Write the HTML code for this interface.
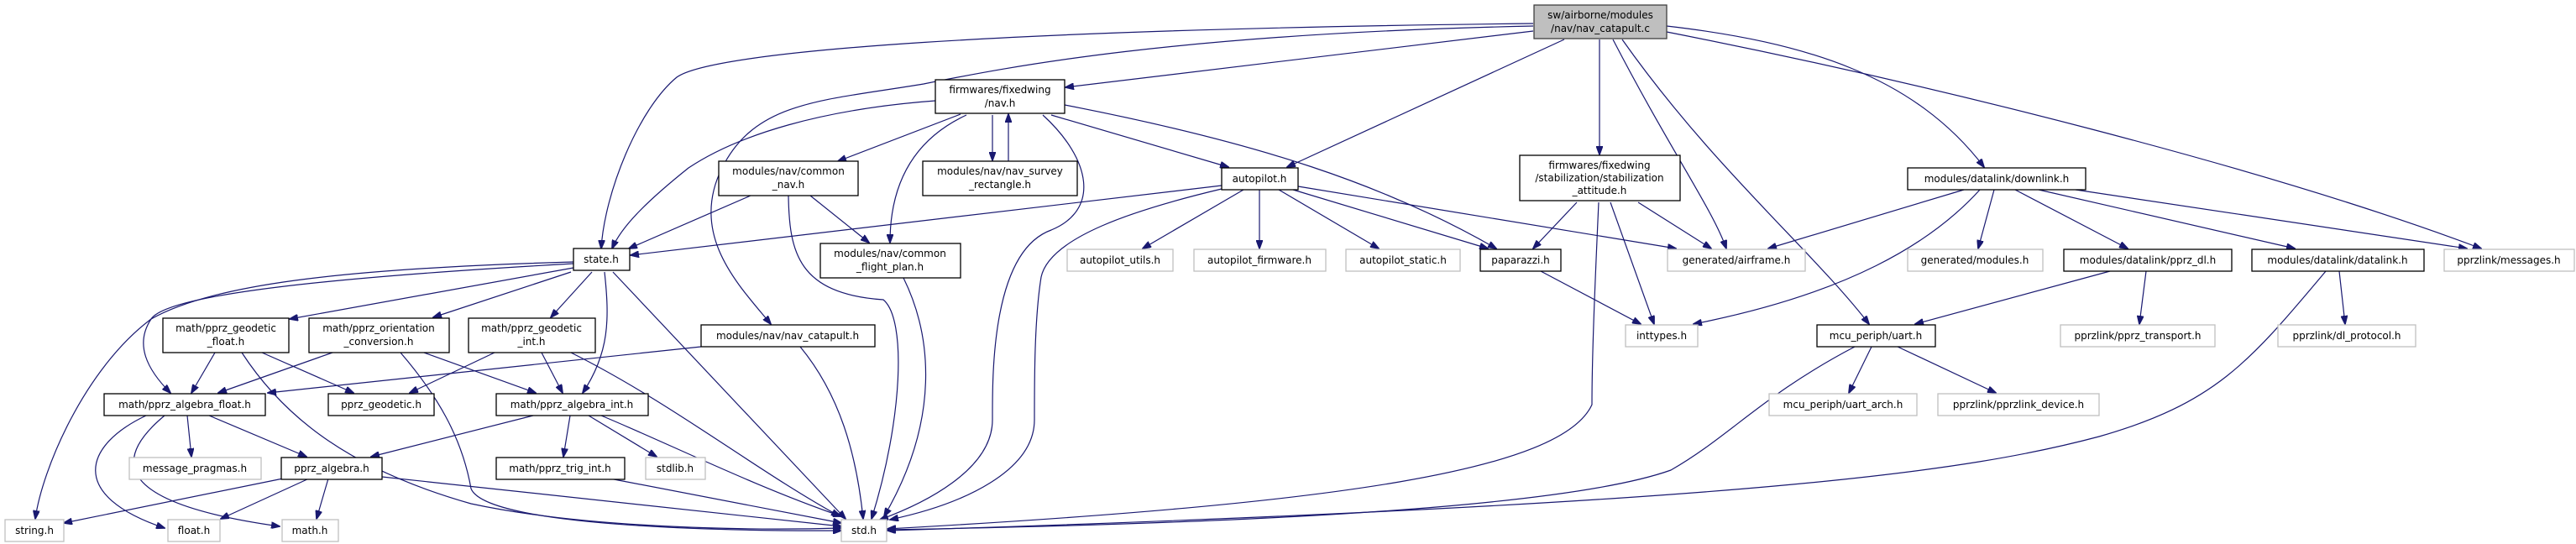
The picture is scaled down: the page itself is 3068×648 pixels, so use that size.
<!DOCTYPE html>
<html><head><meta charset="utf-8"><style>
html,body{margin:0;padding:0;background:#fff;}
svg{display:block;}
text{font-family:"DejaVu Sans","Liberation Sans",sans-serif;font-size:12px;fill:#000;text-anchor:middle;}
.e{fill:none;stroke:#191970;stroke-width:1.2;}
.b{fill:#fff;stroke:#000;stroke-width:1.3;}
.g{fill:#fff;stroke:#bfbfbf;stroke-width:1.3;}
</style></head><body>
<svg width="3068" height="648" viewBox="0 0 3068 648" xmlns="http://www.w3.org/2000/svg">
<defs><marker id="a" markerWidth="11" markerHeight="8" refX="10" refY="4" orient="auto" markerUnits="userSpaceOnUse"><path d="M0,0 L11,4 L0,8 z" fill="#191970" stroke="#191970"/></marker></defs>
<g marker-end="url(#a)">
<!-- root edges -->
<path class="e" d="M1826,28 C1200,35 850,60 806,92 C760,130 720,230 716,296"/>
<path class="e" d="M1826,31 C1400,40 1200,80 1100,100 C980,120 900,120 860,200 C820,280 880,340 918,386"/>
<path class="e" d="M1826,37 L1269,104"/>
<path class="e" d="M1863,47 L1533,199"/>
<path class="e" d="M1905,47 L1905,184"/>
<path class="e" d="M1921,47 C1990,180 2040,250 2056,296"/>
<path class="e" d="M1932,47 C2040,200 2160,300 2226,386"/>
<path class="e" d="M1985,31 C2150,50 2280,90 2363,199"/>
<path class="e" d="M1985,38 C2300,100 2700,200 2955,296"/>
<!-- nav.h -->
<path class="e" d="M1114,120 C980,130 880,160 820,200 C770,240 740,270 729,296"/>
<path class="e" d="M1144,136 L998,192"/>
<path class="e" d="M1151,137 C1080,170 1060,230 1060,289"/>
<path class="e" d="M1182,137 L1182,191"/>
<path class="e" d="M1201,192 L1201,136"/>
<path class="e" d="M1242,137 C1300,190 1310,250 1252,274 C1180,300 1182,450 1182,500 C1182,560 1100,600 1048,619"/>
<path class="e" d="M1252,137 L1463,199"/>
<path class="e" d="M1268,125 C1500,170 1650,220 1782,296"/>
<!-- common_nav -->
<path class="e" d="M894,233 L749,296"/>
<path class="e" d="M965,233 L1035,289"/>
<path class="e" d="M939,233 C940,300 950,350 1052,357 C1080,380 1075,500 1038,618"/>
<path class="e" d="M1076,331 C1110,400 1120,500 1053,615"/>
<!-- autopilot -->
<path class="e" d="M1455,221 L751,304"/>
<path class="e" d="M1455,225 C1350,250 1250,283 1240,330 C1232,380 1232,450 1232,500 C1232,560 1150,600 1060,619"/>
<path class="e" d="M1481,226 L1361,296"/>
<path class="e" d="M1500,226 L1500,296"/>
<path class="e" d="M1523,226 L1642,296"/>
<path class="e" d="M1540,226 L1772,296"/>
<path class="e" d="M1546,222 L1996,296"/>
<!-- stab -->
<path class="e" d="M1878,241 L1826,296"/>
<path class="e" d="M1904,241 C1900,330 1896,420 1896,482 C1860,560 1600,600 1057,630"/>
<path class="e" d="M1918,241 L1970,386"/>
<path class="e" d="M1951,241 L2038,296"/>
<path class="e" d="M1835,323 L1954,386"/>
<!-- downlink -->
<path class="e" d="M2339,226 L2106,296"/>
<path class="e" d="M2358,226 C2300,290 2200,350 2017,386"/>
<path class="e" d="M2375,226 L2356,296"/>
<path class="e" d="M2400,226 L2534,296"/>
<path class="e" d="M2428,226 L2733,296"/>
<path class="e" d="M2472,226 L2938,296"/>
<path class="e" d="M2513,323 L2281,386"/>
<path class="e" d="M2556,323 L2548,386"/>
<path class="e" d="M2786,323 L2793,386"/>
<path class="e" d="M2770,323 C2680,430 2640,480 2500,520 C2350,560 2100,600 1057,632"/>
<path class="e" d="M2229,413 L2202,468"/>
<path class="e" d="M2260,413 L2377,468"/>
<path class="e" d="M2209,413 C2100,470 2060,520 1990,560 C1850,610 1400,625 1057,631"/>
<!-- state -->
<path class="e" d="M683,312 C400,320 250,340 180,380 C100,440 50,560 42,618"/>
<path class="e" d="M683,314 C400,330 200,350 180,380 C160,410 175,440 203,468"/>
<path class="e" d="M683,319 L345,380"/>
<path class="e" d="M680,324 L516,378"/>
<path class="e" d="M705,324 L656,378"/>
<path class="e" d="M720,324 C726,380 726,420 694,468"/>
<path class="e" d="M730,324 L1007,618"/>
<!-- geodetic float -->
<path class="e" d="M256,420 L228,468"/>
<path class="e" d="M312,420 L421,468"/>
<path class="e" d="M288,420 C340,500 420,560 561,600 C700,630 900,632 1002,629"/>
<path class="e" d="M396,420 L260,468"/>
<path class="e" d="M505,420 L638,468"/>
<path class="e" d="M477,420 C520,470 550,520 561,582 C580,630 900,633 1002,632"/>
<path class="e" d="M589,420 L488,468"/>
<path class="e" d="M645,420 L670,468"/>
<path class="e" d="M680,420 C800,480 900,560 1000,615"/>
<path class="e" d="M835,413 L319,468"/>
<path class="e" d="M953,413 C1000,470 1020,540 1028,618"/>
<!-- algebra float -->
<path class="e" d="M223,495 L228,544"/>
<path class="e" d="M249,495 L365,544"/>
<path class="e" d="M174,495 C100,530 80,590 196,629"/>
<path class="e" d="M196,495 C130,550 140,600 333,627"/>
<path class="e" d="M635,495 L442,544"/>
<path class="e" d="M679,495 L671,544"/>
<path class="e" d="M701,495 L782,544"/>
<path class="e" d="M716,495 C800,530 900,580 1002,615"/>
<path class="e" d="M337,570 L76,623"/>
<path class="e" d="M368,570 L263,618"/>
<path class="e" d="M391,570 L377,618"/>
<path class="e" d="M455,568 L1002,627"/>
<path class="e" d="M726,570 L1002,623"/>
</g>
<!-- nodes -->
<rect x="1827" y="6" width="158" height="40" fill="#bfbfbf" stroke="#404040" stroke-width="1.3"/>
<text x="1906" y="22">sw/airborne/modules</text><text x="1906" y="38">/nav/nav_catapult.c</text>
<rect class="b" x="1114" y="95" width="154" height="40"/><text x="1191" y="111">firmwares/fixedwing</text><text x="1191" y="127">/nav.h</text>
<rect class="b" x="856" y="192" width="166" height="41"/><text x="939" y="208">modules/nav/common</text><text x="939" y="224">_nav.h</text>
<rect class="b" x="1099" y="192" width="184" height="41"/><text x="1191" y="208">modules/nav/nav_survey</text><text x="1191" y="224">_rectangle.h</text>
<rect class="b" x="1455" y="200" width="91" height="26"/><text x="1500" y="217">autopilot.h</text>
<rect class="b" x="1810" y="185" width="191" height="54"/><text x="1905" y="201">firmwares/fixedwing</text><text x="1905" y="216">/stabilization/stabilization</text><text x="1905" y="231">_attitude.h</text>
<rect class="b" x="2272" y="200" width="212" height="26"/><text x="2378" y="217">modules/datalink/downlink.h</text>
<rect class="b" x="683" y="296" width="67" height="26"/><text x="716" y="313">state.h</text>
<rect class="b" x="977" y="290" width="167" height="41"/><text x="1060" y="306">modules/nav/common</text><text x="1060" y="322">_flight_plan.h</text>
<rect class="g" x="1271" y="297" width="126" height="26"/><text x="1334" y="314">autopilot_utils.h</text>
<rect class="g" x="1422" y="297" width="157" height="26"/><text x="1500" y="314">autopilot_firmware.h</text>
<rect class="g" x="1603" y="297" width="136" height="26"/><text x="1671" y="314">autopilot_static.h</text>
<rect class="b" x="1763" y="297" width="96" height="26"/><text x="1811" y="314">paparazzi.h</text>
<rect class="g" x="1986" y="297" width="164" height="26"/><text x="2068" y="314">generated/airframe.h</text>
<rect class="g" x="2272" y="297" width="161" height="26"/><text x="2352" y="314">generated/modules.h</text>
<rect class="b" x="2458" y="297" width="200" height="26"/><text x="2558" y="314">modules/datalink/pprz_dl.h</text>
<rect class="b" x="2682" y="297" width="205" height="26"/><text x="2784" y="314">modules/datalink/datalink.h</text>
<rect class="g" x="2911" y="297" width="155" height="26"/><text x="2988" y="314">pprzlink/messages.h</text>
<rect class="b" x="194" y="379" width="150" height="41"/><text x="269" y="395">math/pprz_geodetic</text><text x="269" y="411">_float.h</text>
<rect class="b" x="368" y="379" width="167" height="41"/><text x="451" y="395">math/pprz_orientation</text><text x="451" y="411">_conversion.h</text>
<rect class="b" x="558" y="379" width="151" height="41"/><text x="633" y="395">math/pprz_geodetic</text><text x="633" y="411">_int.h</text>
<rect class="b" x="835" y="387" width="207" height="26"/><text x="938" y="404">modules/nav/nav_catapult.h</text>
<rect class="g" x="1936" y="387" width="86" height="26"/><text x="1979" y="404">inttypes.h</text>
<rect class="b" x="2164" y="387" width="141" height="26"/><text x="2234" y="404">mcu_periph/uart.h</text>
<rect class="g" x="2454" y="387" width="184" height="26"/><text x="2546" y="404">pprzlink/pprz_transport.h</text>
<rect class="g" x="2713" y="387" width="164" height="26"/><text x="2795" y="404">pprzlink/dl_protocol.h</text>
<rect class="b" x="124" y="469" width="192" height="26"/><text x="220" y="486">math/pprz_algebra_float.h</text>
<rect class="b" x="391" y="469" width="126" height="26"/><text x="454" y="486">pprz_geodetic.h</text>
<rect class="b" x="591" y="469" width="181" height="26"/><text x="681" y="486">math/pprz_algebra_int.h</text>
<rect class="g" x="2107" y="469" width="176" height="26"/><text x="2195" y="486">mcu_periph/uart_arch.h</text>
<rect class="g" x="2308" y="469" width="192" height="26"/><text x="2404" y="486">pprzlink/pprzlink_device.h</text>
<rect class="g" x="154" y="545" width="157" height="26"/><text x="232" y="562">message_pragmas.h</text>
<rect class="b" x="335" y="545" width="120" height="26"/><text x="395" y="562">pprz_algebra.h</text>
<rect class="b" x="591" y="545" width="153" height="26"/><text x="667" y="562">math/pprz_trig_int.h</text>
<rect class="g" x="769" y="545" width="71" height="26"/><text x="804" y="562">stdlib.h</text>
<rect class="g" x="6" y="619" width="70" height="26"/><text x="41" y="636">string.h</text>
<rect class="g" x="200" y="619" width="62" height="26"/><text x="231" y="636">float.h</text>
<rect class="g" x="336" y="619" width="67" height="26"/><text x="369" y="636">math.h</text>
<rect class="g" x="1002" y="619" width="54" height="26"/><text x="1029" y="636">std.h</text>
</svg>
</body></html>
